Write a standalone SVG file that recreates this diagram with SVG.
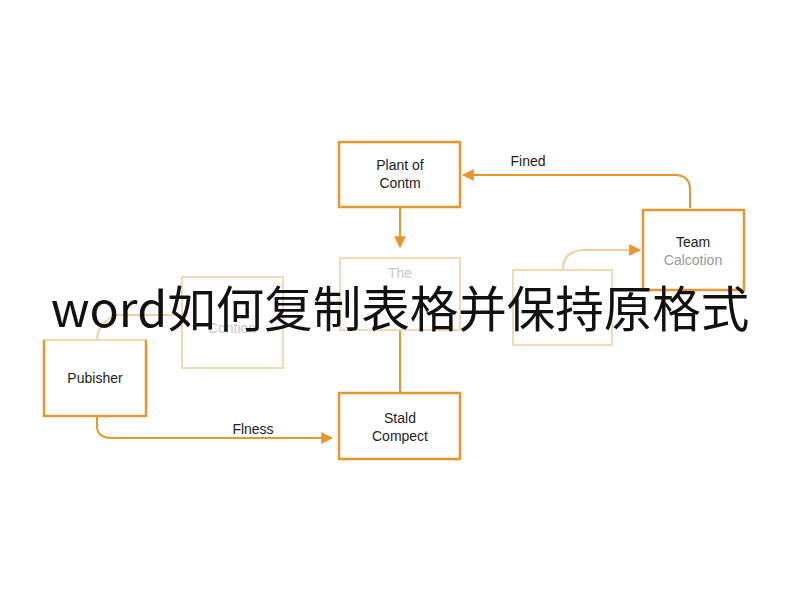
<svg xmlns="http://www.w3.org/2000/svg" width="800" height="600" viewBox="0 0 800 600">
<defs>
<style>
.b{fill:#fff;stroke:#e8962e;stroke-width:2.5}
.f{fill:#fff;stroke:#f3d9b5;stroke-width:2}
.t{font-family:"Liberation Sans",sans-serif;font-size:14px;fill:#222;text-anchor:middle}
.ft{font-family:"Liberation Sans",sans-serif;font-size:14px;fill:#c8c8c8;text-anchor:middle}
.c{fill:none;stroke:#e8962e;stroke-width:2}
.cf{fill:none;stroke:#f0cfa0;stroke-width:2}
</style>
<marker id="a" viewBox="0 0 10 10" refX="9" refY="5" markerWidth="6" markerHeight="6" orient="auto-start-reverse"><path d="M0,0L10,5L0,10z" fill="#e8962e"/></marker>
</defs>
<rect width="800" height="600" fill="#fff"/>
<g id="connectors">
<path class="c" d="M400,207V247" marker-end="url(#a)"/>
<path class="c" d="M400,330V393"/>
<path class="c" d="M97,416V426Q97,438 112,438H332" marker-end="url(#a)"/>
<path class="c" d="M690,208V190Q690,175 675,175H463" marker-end="url(#a)"/>
<path class="cf" d="M563,270Q563,250 585,250H640" marker-end="url(#a)"/>
<path class="cf" d="M97,340Q97,325 115,315H182"/>
<text class="t" x="253" y="434">Flness</text>
<text class="t" x="528" y="166">Fined</text>
</g>
<g id="n1"><rect class="b" x="339" y="142" width="121" height="65"/><text class="t" x="400" y="170">Plant of</text><text class="t" x="400" y="188">Contm</text></g>
<g id="n2"><rect class="f" x="340" y="258" width="120" height="72"/><text class="ft" x="400" y="278">The</text></g>
<g id="n3"><rect class="b" x="339" y="393" width="121" height="66"/><text class="t" x="400" y="423">Stald</text><text class="t" x="400" y="441">Compect</text></g>
<g id="n4"><rect class="f" x="44" y="340" width="102" height="76"/><path d="M44,340V416H146V340" fill="none" stroke="#e8962e" stroke-width="2.5"/><text class="t" x="95" y="383">Pubisher</text></g>
<g id="n5"><rect class="f" x="182" y="277" width="101" height="91"/><text class="ft" x="232" y="333">Contion</text></g>
<g id="n6"><rect class="f" x="513" y="270" width="99" height="75"/></g>
<g id="n7"><rect class="b" x="643" y="210" width="101" height="80"/><text class="t" x="693" y="247">Team</text><text class="ft" x="693" y="265" style="fill:#999">Calcotion</text></g>
<text x="400" y="327" font-family="'Noto Sans CJK SC',sans-serif" font-size="48.5" fill="#111" text-anchor="middle">word如何复制表格并保持原格式</text>
</svg>
